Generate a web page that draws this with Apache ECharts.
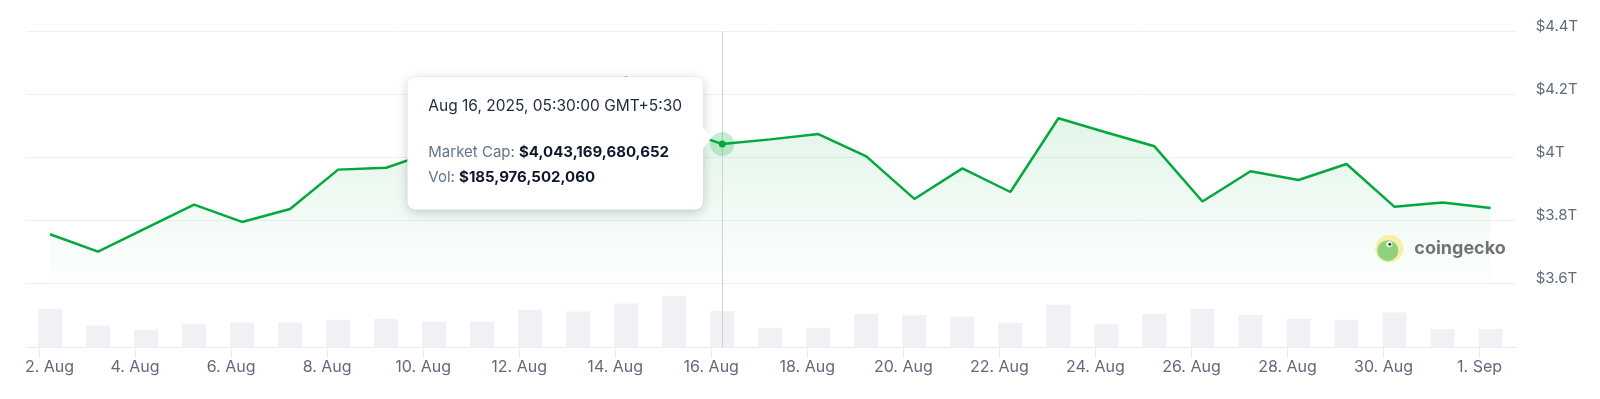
<!DOCTYPE html>
<html lang="en">
<head>
<meta charset="UTF-8">
<title>Crypto Market Cap</title>
<style>
    html, body { margin: 0; padding: 0; background: #fff; }
    #main { width: 1600px; height: 399px; }
</style>
</head>
<body>
<div id="main"></div>
<script src="https://cdn.jsdelivr.net/npm/echarts@6/dist/echarts.min.js"></script>
<script>
    // one point per day, 05:30 GMT+5:30
    var dates = [
        '2025-08-02', '2025-08-03', '2025-08-04', '2025-08-05', '2025-08-06', '2025-08-07',
        '2025-08-08', '2025-08-09', '2025-08-10', '2025-08-11', '2025-08-12', '2025-08-13',
        '2025-08-14', '2025-08-15', '2025-08-16', '2025-08-17', '2025-08-18', '2025-08-19',
        '2025-08-20', '2025-08-21', '2025-08-22', '2025-08-23', '2025-08-24', '2025-08-25',
        '2025-08-26', '2025-08-27', '2025-08-28', '2025-08-29', '2025-08-30', '2025-08-31',
        '2025-09-01'
    ];
    // market cap, trillions USD
    var marketCap = [
        3.757, 3.702, 3.776, 3.851, 3.796, 3.837,
        3.962, 3.968, 4.020, 4.110, 4.060, 4.170,
        4.255, 4.097, 4.043, 4.058, 4.075, 4.004,
        3.869, 3.966, 3.891, 4.125, 4.080, 4.036,
        3.861, 3.957, 3.929, 3.980, 3.844, 3.858,
        3.840
    ];
    // volume, billions USD
    var volume = [
        198, 112, 89, 121, 128, 128,
        142, 147, 133, 133, 193, 184,
        225, 264, 186, 101, 101, 172,
        166, 158, 126, 218, 121, 172,
        198, 167, 147, 142, 179, 94,
        94
    ];
    var tickDates = [
        '2025-08-02', '2025-08-04', '2025-08-06', '2025-08-08', '2025-08-10', '2025-08-12',
        '2025-08-14', '2025-08-16', '2025-08-18', '2025-08-20', '2025-08-22', '2025-08-24',
        '2025-08-26', '2025-08-28', '2025-08-30', '2025-09-01'
    ];
    var months = ['Jan', 'Feb', 'Mar', 'Apr', 'May', 'Jun', 'Jul', 'Aug', 'Sep', 'Oct', 'Nov', 'Dec'];

    // hovered point (tooltip)
    var hoverIndex = 14;
    var hoverTitle = 'Aug 16, 2025, 05:30:00 GMT+5:30';
    var hoverCap = '$4,043,169,680,652';
    var hoverVol = '$185,976,502,060';

    var GREEN = '#00a83e';
    var LABEL = '#5f6b7d';
    var DAY0 = Date.UTC(2025, 7, 2);

    function dayOf(s) {
        var p = s.split('-');
        return (Date.UTC(+p[0], +p[1] - 1, +p[2]) - DAY0) / 864e5;
    }

    var timeOfDay = 5.5 / 24;
    var capData = [];
    var volData = [];
    for (var i = 0; i < dates.length; i++) {
        capData.push([dayOf(dates[i]) + timeOfDay, marketCap[i]]);
        volData.push([dayOf(dates[i]) + timeOfDay, volume[i]]);
    }
    var tickValues = tickDates.map(dayOf);
    var hoverX = capData[hoverIndex][0];

    function tickLabel(v) {
        var t = new Date(DAY0 + Math.round(v) * 864e5);
        var s = t.getUTCDate() + '. ' + months[t.getUTCMonth()];
        // first label is pushed inside the plot
        return v === tickValues[0] ? '{first|' + s + '}' : s;
    }

    var xMin = -0.256, xMax = 30.752;
    var font = 'Inter, "Noto Sans", sans-serif';
    var TIP_Z = 100;

    var myChart = echarts.init(document.getElementById('main'));
    var option = {
        animation: false,
        textStyle: { fontFamily: font },
        grid: [
            { left: 26.7, right: 84.3, top: 31.6, bottom: 115.3 },
            { left: 26.7, right: 84.3, top: 283.7, bottom: 51.3 }
        ],
        xAxis: [
            { type: 'value', gridIndex: 0, min: xMin, max: xMax, show: false },
            {
                type: 'value', gridIndex: 1, min: xMin, max: xMax,
                axisLine: { show: true, lineStyle: { color: '#e8eaef', width: 1 } },
                axisTick: { show: true, customValues: tickValues, length: 10, lineStyle: { color: '#e8eaef' } },
                axisLabel: {
                    customValues: tickValues, formatter: tickLabel, color: LABEL, fontSize: 16, margin: 11,
                    rich: { first: { color: LABEL, fontSize: 16, fontFamily: font, padding: [0, 0, 0, 21] } }
                },
                splitLine: { show: false }
            }
        ],
        yAxis: [
            {
                type: 'value', gridIndex: 0, position: 'right', min: 3.6, max: 4.4, interval: 0.2,
                axisLine: { show: false },
                axisTick: { show: false },
                axisLabel: {
                    formatter: function (v) { return '$' + (+v.toFixed(1)) + 'T'; },
                    color: LABEL, fontSize: 15, margin: 20,
                    verticalAlign: 'bottom', lineHeight: 11
                },
                splitLine: { lineStyle: { color: '#eef0f3', width: 1 } }
            },
            { type: 'value', gridIndex: 1, min: 0, max: 325, show: false }
        ],
        series: [
            {
                name: 'Market Cap',
                type: 'line',
                xAxisIndex: 0,
                yAxisIndex: 0,
                data: capData,
                showSymbol: false,
                lineStyle: { color: GREEN, width: 2.5 },
                areaStyle: {
                    color: {
                        type: 'linear', x: 0, y: 0, x2: 0, y2: 1,
                        colorStops: [
                            { offset: 0, color: 'rgba(0,168,62,0.2)' },
                            { offset: 1, color: 'rgba(0,168,62,0.01)' }
                        ]
                    }
                },
                markLine: {
                    silent: true,
                    symbol: ['none', 'none'],
                    label: { show: false },
                    lineStyle: { color: '#cfd1d4', width: 1, type: 'solid' },
                    data: [{ xAxis: hoverX }]
                },
                markPoint: {
                    silent: true,
                    label: { show: false },
                    data: [
                        { coord: capData[hoverIndex], symbol: 'circle', symbolSize: 24, itemStyle: { color: 'rgba(0,168,62,0.22)' } },
                        { coord: capData[hoverIndex], symbol: 'circle', symbolSize: 7, itemStyle: { color: GREEN } }
                    ]
                }
            },
            {
                name: 'Vol',
                type: 'bar',
                xAxisIndex: 1,
                yAxisIndex: 1,
                data: volData,
                barWidth: 24,
                itemStyle: { color: '#eff1f5' },
                markLine: {
                    silent: true,
                    symbol: ['none', 'none'],
                    label: { show: false },
                    lineStyle: { color: '#cfd1d4', width: 1, type: 'solid' },
                    data: [{ xAxis: hoverX }]
                }
            }
        ],
        graphic: [
            {
                // tooltip
                type: 'group', x: 407.3, y: 76.7, z: TIP_Z,
                children: [
                    {
                        type: 'rect', z: TIP_Z,
                        shape: { x: 0, y: 0, width: 296, height: 133, r: 8 },
                        style: {
                            fill: '#fff', stroke: 'rgba(0,0,0,0.05)', lineWidth: 1,
                            shadowBlur: 12, shadowColor: 'rgba(15,23,42,0.2)', shadowOffsetY: 3
                        }
                    },
                    {
                        type: 'polygon', z: TIP_Z + 1,
                        shape: { points: [[295, 49], [304, 61], [295, 73]] },
                        style: { fill: '#fff' }
                    },
                    {
                        type: 'text', x: 21, y: 30, z: TIP_Z + 2,
                        style: { text: hoverTitle, fontSize: 15.5, fontFamily: font, fill: '#1e293b', verticalAlign: 'middle' }
                    },
                    {
                        type: 'text', x: 21, y: 75.6, z: TIP_Z + 2,
                        style: {
                            text: '{l|Market Cap: }{v|' + hoverCap + '}',
                            verticalAlign: 'middle',
                            rich: {
                                l: { fontSize: 15, fontFamily: font, fill: '#64748b' },
                                v: { fontSize: 15, fontFamily: font, fontWeight: 'bold', fill: '#0f172a' }
                            }
                        }
                    },
                    {
                        type: 'text', x: 21, y: 100.6, z: TIP_Z + 2,
                        style: {
                            text: '{l|Vol: }{v|' + hoverVol + '}',
                            verticalAlign: 'middle',
                            rich: {
                                l: { fontSize: 15, fontFamily: font, fill: '#64748b' },
                                v: { fontSize: 15, fontFamily: font, fontWeight: 'bold', fill: '#0f172a' }
                            }
                        }
                    }
                ]
            },
            {
                // watermark
                type: 'group', x: 1389.3, y: 248.7, z: 50,
                children: [
                    { type: 'circle', z: 50, shape: { cx: 0, cy: 0, r: 14 }, style: { fill: 'rgba(246,238,158,0.9)' } },
                    { type: 'circle', z: 51, shape: { cx: -1.5, cy: 2, r: 10.5 }, style: { fill: '#8fd27e' } },
                    { type: 'circle', z: 52, shape: { cx: 0, cy: -4.5, r: 3 }, style: { fill: '#ffffff' } },
                    { type: 'circle', z: 53, shape: { cx: 0.5, cy: -4.5, r: 1.5 }, style: { fill: '#3b3b3b' } },
                    {
                        type: 'text', x: 25, y: 0, z: 53,
                        style: { text: 'coingecko', fontSize: 18, fontWeight: 'bold', fontFamily: font, fill: '#727272', verticalAlign: 'middle' }
                    }
                ]
            }
        ]
    };
    myChart.setOption(option);
</script>
</body>
</html>
